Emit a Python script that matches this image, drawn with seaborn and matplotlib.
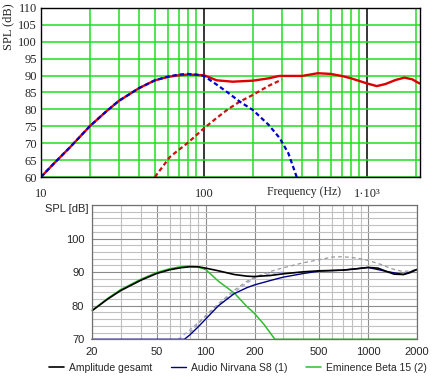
import numpy as np
import pandas as pd
import matplotlib.pyplot as plt
import seaborn as sns

sns.set_style("white")

# ---- top panel (Mathcad style) ----
top_total_f = [10, 12, 15, 20, 25, 30, 40, 50, 60, 70, 80, 90, 100, 120, 150, 200, 250, 290,
               400, 500, 600, 700, 800, 1000, 1150, 1300, 1500, 1700, 1900, 2100]
top_total_db = [60, 64, 68.7, 75.1, 79.3, 82.5, 86.3, 88.6, 89.6, 90.1, 90.3, 90.2, 90.1, 88.6, 88.2, 88.5, 89.2, 89.9,
                89.9, 90.7, 90.5, 89.9, 89.2, 87.7, 86.9, 87.5, 88.7, 89.4, 88.9, 87.7]

top_woofer_f = [10, 12, 15, 20, 25, 30, 40, 50, 60, 70, 80, 90, 100, 120, 140, 166, 200, 250, 292, 330, 371]
top_woofer_db = [60, 64, 68.7, 75.1, 79.3, 82.5, 86.3, 88.6, 89.7, 90.3, 90.5, 90.3, 89.9, 87.3, 85.0, 82.3, 79.8, 75.4, 71.5, 67.0, 60]

top_tweeter_f = [50, 62, 80, 100, 120, 140, 166, 200, 250, 300]
top_tweeter_db = [60, 66, 70.2, 74.4, 77.5, 80.0, 82.3, 84.3, 87.0, 88.8]

# ---- bottom panel (simulator style) ----
total_f = [20, 25, 30, 40, 50, 60, 70, 80, 90, 100, 120, 150, 180, 200, 250, 300, 400, 500, 700,
           850, 1000, 1150, 1300, 1450, 1650, 1800, 2000]
total_db = [78.5, 82.0, 84.5, 87.6, 89.6, 90.7, 91.3, 91.6, 91.6, 91.2, 90.4, 89.3, 88.8, 88.7, 89.0, 89.5, 90.1, 90.4, 90.6,
            91.0, 91.4, 91.2, 90.2, 89.4, 89.3, 89.8, 90.8]

nirvana_f = [20, 50, 74, 80, 90, 100, 120, 150, 180, 200, 250, 300, 400, 500, 700, 1000, 1300, 1650, 2000]
nirvana_db = [70, 70, 70, 71.3, 73.7, 76.0, 80.0, 83.6, 85.4, 86.2, 87.5, 88.5, 89.6, 90.3, 90.6, 91.4, 90.2, 89.3, 90.8]

eminence_f = [20, 25, 30, 40, 50, 60, 70, 80, 90, 100, 120, 150, 180, 200, 230, 267, 300, 1000, 2000]
eminence_db = [78.6, 82.2, 84.8, 87.9, 89.9, 91.0, 91.6, 91.8, 91.5, 90.8, 87.3, 83.8, 79.7, 77.7, 74.3, 70, 70, 70, 70]

ghost_total_f = [80, 90, 100, 120, 150, 180, 200, 250, 300, 400, 500, 600, 700, 850, 1000, 1200, 1400, 1600, 1800, 2000]
ghost_total_db = [72.0, 74.6, 77.0, 80.6, 84.6, 87.3, 88.5, 90.2, 91.3, 92.8, 93.7, 94.5, 94.6, 94.2, 93.5, 92.3, 91.0, 90.3, 90.3, 90.9]

ghost_nirvana_f = [68, 80, 100, 120, 150, 180, 206, 250, 300]
ghost_nirvana_db = [70, 72.8, 76.9, 80.3, 84.0, 86.8, 88.6, 89.6, 90.0]

legend_labels = ["Amplitude gesamt", "Audio Nirvana S8 (1)", "Eminence Beta 15 (2)"]

fig = plt.figure(figsize=(4.4, 3.8), dpi=100)
serif = "Liberation Serif"
sans = "Liberation Sans"

# top
ax1 = fig.add_axes([41 / 440, 1 - 177 / 380, 379 / 440, 169 / 380])
green = "#22dd22"
ax1.set_xscale("log")
ax1.set_xlim(10, 2120)
ax1.set_ylim(60, 110)
ax1.set_xticks([10, 100, 1000])
ax1.set_xticks([20, 30, 40, 50, 60, 70, 80, 90, 200, 300, 400, 500, 600, 700, 800, 900, 2000], minor=True)
ax1.set_xticklabels(["10", "100", "1·10³"], family=serif, fontsize=9)
ax1.set_yticks(np.arange(60, 111, 5))
ax1.set_yticklabels([str(v) for v in range(60, 111, 5)], family=serif, fontsize=9)
ax1.tick_params(axis="both", which="both", length=0)
ax1.tick_params(axis="x", which="major", pad=8)
ax1.tick_params(axis="y", pad=3)
ax1.grid(True, axis="x", which="minor", color=green, lw=1.1)
ax1.grid(True, axis="x", which="major", color="black", lw=1.1)
ax1.grid(True, axis="y", which="major", color=green, lw=1.1)
ax1.set_axisbelow(True)
for s in ax1.spines.values():
    s.set_color("black")
    s.set_linewidth(1.0)

sns.lineplot(x=top_tweeter_f, y=top_tweeter_db, ax=ax1, color="#cc1111", lw=1.6,
             linestyle=(0, (2, 1.3)))
sns.lineplot(x=top_total_f, y=top_total_db, ax=ax1, color="#dd0000", lw=1.7)
sns.lineplot(x=top_woofer_f, y=top_woofer_db, ax=ax1, color="#0000cc", lw=1.6,
             linestyle=(0, (2, 1.3)))

fig.text(8 / 440, 1 - 3 / 380, "SPL (dB)", rotation=90, ha="center", va="top", family=serif, fontsize=9)
fig.text(267 / 440, 1 - 192 / 380, "Frequency (Hz)", ha="left", va="center", family=serif, fontsize=8.5)

# bottom
ax2 = fig.add_axes([92 / 440, 1 - 339.3 / 380, 325 / 440, 134.3 / 380])
ax2.set_xscale("log")
ax2.set_xlim(20, 2000)
ax2.set_ylim(70, 110)
ax2.set_xticks([20, 50, 100, 200, 500, 1000, 2000])
ax2.set_xticks([30, 40, 60, 70, 80, 90, 300, 400, 600, 700, 800, 900], minor=True)
ax2.set_xticklabels(["20", "50", "100", "200", "500", "1000", "2000"], family=sans, fontsize=8)
ax2.set_yticks([70, 80, 90, 100])
ax2.set_yticks(np.arange(70, 111, 2), minor=True)
ax2.set_yticklabels(["70", "80", "90", "100"], family=sans, fontsize=8)
ax2.tick_params(axis="both", which="minor", length=0)
ax2.tick_params(axis="both", which="major", length=4, color="#606060", pad=1.5, direction="out")
ax2.grid(True, which="minor", color="#c0c0c0", lw=0.8)
ax2.grid(True, which="major", color="#8c8c8c", lw=0.8)
ax2.set_axisbelow(True)
for s in ax2.spines.values():
    s.set_color("#707070")
    s.set_linewidth(0.9)

sns.lineplot(x=ghost_nirvana_f, y=ghost_nirvana_db, ax=ax2, color="#a0a0e0", lw=0.9, linestyle=(0, (3, 2.5)))
sns.lineplot(x=ghost_total_f, y=ghost_total_db, ax=ax2, color="#9a9a9a", lw=0.9, linestyle=(0, (3, 2.5)))
sns.lineplot(x=eminence_f, y=eminence_db, ax=ax2, color="#33bb33", lw=1.1, label=legend_labels[2], clip_on=False)
sns.lineplot(x=nirvana_f, y=nirvana_db, ax=ax2, color="#000088", lw=1.0, label=legend_labels[1], clip_on=False)
sns.lineplot(x=total_f, y=total_db, ax=ax2, color="black", lw=1.2, label=legend_labels[0])

handles, labels = ax2.get_legend_handles_labels()
ax2.get_legend().remove()
order = [labels.index(l) for l in legend_labels]
fig.legend([handles[i] for i in order], legend_labels, loc="center", ncol=3,
           bbox_to_anchor=(238 / 440, 1 - 368 / 380), frameon=False,
           prop={"family": sans, "size": 7.5}, handlelength=1.4, handletextpad=0.5,
           columnspacing=1.8, borderpad=0.1, borderaxespad=0)

fig.text(88 / 440, 1 - 209 / 380, "SPL [dB]", ha="right", va="center", family=sans, fontsize=8)

fig.savefig("out.png", dpi=100)
